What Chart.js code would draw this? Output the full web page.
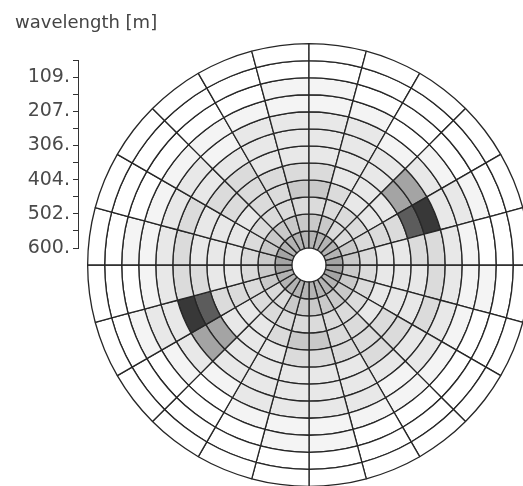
<!DOCTYPE html>
<html>
<head>
<meta charset="utf-8">
<script src="https://cdn.jsdelivr.net/npm/chart.js@4.4.1/dist/chart.umd.min.js"></script>
<style>
  html, body { margin: 0; padding: 0; background: #ffffff; overflow: hidden; }
  #wrap { position: relative; width: 523px; height: 486px; overflow: hidden; }
  #polar { position: absolute; left: 0; top: 0; }
  #axis { position: absolute; left: 0; top: 0; }
</style>
</head>
<body>
<div id="wrap">
  <canvas id="polar" width="540" height="500"></canvas>
  <canvas id="axis" width="523" height="486"></canvas>
</div>
<script>
// Propagation directions of the upper half (deg, counter-clockwise from east).
// The spectrum is point-symmetric, so the lower half repeats these bins.
const directions = [0, 15, 30, 45, 60, 75, 90, 105, 120, 135, 150, 165];

// Normalised spectral energy per wavenumber ring (innermost first),
// one value per direction bin above.
const ring01 = [0.47, 0.36, 0.33, 0.32, 0.33, 0.34, 0.35, 0.38, 0.40, 0.42, 0.45, 0.47];
const ring02 = [0.25, 0.22, 0.20, 0.20, 0.22, 0.22, 0.23, 0.24, 0.25, 0.25, 0.25, 0.26];
const ring03 = [0.18, 0.17, 0.16, 0.15, 0.16, 0.16, 0.17, 0.17, 0.18, 0.18, 0.18, 0.19];
const ring04 = [0.14, 0.15, 0.13, 0.12, 0.18, 0.28, 0.28, 0.17, 0.15, 0.14, 0.13, 0.12];
const ring05 = [0.13, 0.16, 0.13, 0.11, 0.14, 0.18, 0.18, 0.15, 0.19, 0.18, 0.12, 0.10];
const ring06 = [0.17, 0.75, 0.50, 0.11, 0.12, 0.14, 0.14, 0.13, 0.17, 0.16, 0.14, 0.10];
const ring07 = [0.20, 0.95, 0.48, 0.09, 0.11, 0.14, 0.13, 0.11, 0.12, 0.13, 0.17, 0.19];
const ring08 = [0.12, 0.14, 0.10, 0.05, 0.08, 0.11, 0.11, 0.08, 0.07, 0.09, 0.12, 0.13];
const ring09 = [0.05, 0.08, 0.05, 0.02, 0.04, 0.06, 0.06, 0.04, 0.03, 0.04, 0.06, 0.05];
const ring10 = [0.02, 0.03, 0.02, 0.00, 0.01, 0.03, 0.03, 0.01, 0.00, 0.01, 0.02, 0.03];
const ring11 = [0.00, 0.00, 0.00, 0.00, 0.00, 0.00, 0.00, 0.00, 0.00, 0.00, 0.00, 0.00];
const ring12 = [0.00, 0.00, 0.00, 0.00, 0.00, 0.00, 0.00, 0.00, 0.00, 0.00, 0.00, 0.00];

// Wavelength scale beside the plot (one tick per ring boundary)
const wavelengthLabels = ['109.', '207.', '306.', '404.', '502.', '600.'];

// Grey contour classes
const levelLimits = [0.03, 0.08, 0.15, 0.22, 0.32, 0.45, 0.60, 0.85];
const levelGreys  = ['#ffffff', '#f4f4f4', '#e8e8e8', '#dbdbdb', '#c9c9c9',
                     '#b4b4b4', '#a4a4a4', '#5c5c5c', '#383838'];

function greyFor(v) {
  let k = 0;
  while (k < levelLimits.length && v >= levelLimits[k]) k++;
  return levelGreys[k];
}

const rings = [ring01, ring02, ring03, ring04, ring05, ring06,
               ring07, ring08, ring09, ring10, ring11, ring12];
const nSectors = directions.length * 2;

// Slices run clockwise from east; slice k covers directions
// -(k+1)*15 .. -k*15, i.e. full-circle bin (nSectors-1-k).
function sliceValues(ring) {
  const out = [];
  for (let k = 0; k < nSectors; k++) {
    const bin = (nSectors - 1 - k) % directions.length;
    out.push(ring[bin]);
  }
  return out;
}

const sliceLabels = [];
for (let k = 0; k < nSectors; k++) {
  sliceLabels.push(((360 - 15 * (k + 1)) % 360) + '°');
}

// Doughnut datasets go from the outermost ring inwards
const datasets = rings.slice().reverse().map((ring, idx) => {
  const vals = sliceValues(ring);
  return {
    label: 'k' + (rings.length - idx),
    data: vals.map(() => 1),
    energy: vals,
    backgroundColor: vals.map(greyFor),
    borderColor: '#262626',
    borderWidth: 1.3,
    hoverOffset: 0
  };
});

new Chart(document.getElementById('polar'), {
  type: 'doughnut',
  data: { labels: sliceLabels, datasets: datasets },
  options: {
    responsive: false,
    animation: false,
    events: [],
    rotation: 90,
    cutout: 17,
    layout: { padding: { left: 87, top: 43, right: 9, bottom: 13 } },
    plugins: { legend: { display: false }, tooltip: { enabled: false } }
  }
});

// Wavelength axis with its heading
const tickText = {};
wavelengthLabels.forEach((t, i) => { tickText[2 * i + 1] = t; });

new Chart(document.getElementById('axis'), {
  type: 'scatter',
  data: { datasets: [] },
  options: {
    responsive: false,
    animation: false,
    events: [],
    layout: { padding: { left: 15, top: 0, right: 150, bottom: 238 } },
    plugins: {
      legend: { display: false },
      tooltip: { enabled: false },
      title: {
        display: true,
        text: 'wavelength [m]',
        align: 'start',
        color: '#444444',
        font: { family: 'DejaVu Sans', size: 18, weight: 400 },
        padding: { top: 13, bottom: 25.4 }
      }
    },
    scales: {
      x: { display: false, min: 0, max: 1 },
      y: {
        type: 'linear',
        position: 'left',
        reverse: true,
        min: 0,
        max: 11,
        afterFit: (scale) => { scale.width = 63; },
        ticks: {
          stepSize: 1,
          autoSkip: false,
          padding: 3,
          color: '#4a4a4a',
          font: { family: 'DejaVu Sans', size: 19 },
          callback: (v) => tickText[v] || ''
        },
        grid: { drawOnChartArea: false, drawTicks: true, tickLength: 5, color: '#333333', lineWidth: 1 },
        border: { display: true, color: '#333333', width: 1 }
      }
    }
  }
});
</script>
</body>
</html>
